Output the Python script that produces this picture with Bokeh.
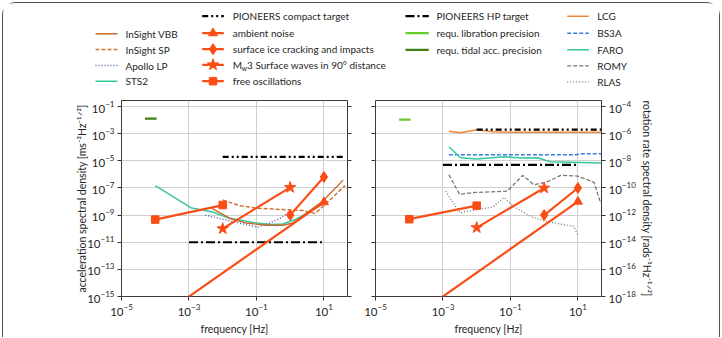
import math
from bokeh.plotting import figure
from bokeh.models import Range1d, FixedTicker, LogAxis, CustomJSTickFormatter
from bokeh.layouts import column, row
from bokeh.embed import file_html
from bokeh.resources import INLINE
from bokeh.core.properties import value

FONT = "Lato"

# ---------------- axis ticks ----------------
freq_ticks = [1e-5, 1e-3, 1e-1, 1e1]
acc_ticks = [1e-1, 1e-3, 1e-5, 1e-7, 1e-9, 1e-11, 1e-13, 1e-15]
rot_ticks = [1e-4, 1e-6, 1e-8, 1e-10, 1e-12, 1e-14, 1e-16, 1e-18]

# ---------------- acceleration panel ----------------
vbb_f = [4.7e-3, 0.016, 0.05, 0.2, 0.6, 1.2, 9.3, 37]
vbb_acc = [3.3e-9, 5.9e-10, 2.6e-10, 1.8e-10, 1.8e-10, 2.6e-10, 1.1e-8, 3.8e-7]

sp_f = [1e-2, 0.032, 0.1, 0.5, 2.4, 5.4, 10, 42]
sp_acc = [1.3e-8, 5e-9, 3.3e-9, 2.6e-9, 2.2e-9, 1.3e-9, 5e-9, 1.5e-7]

apollo_f = [3e-3, 0.05, 0.11, 0.25, 0.5, 1.0]
apollo_acc = [1e-9, 2e-10, 1.3e-10, 2.6e-10, 5.9e-10, 1.9e-9]

sts2_f = [1e-4, 1.2e-3, 5e-3, 0.016, 0.1, 0.25, 0.6, 1.35, 3, 9.3]
sts2_acc = [1.5e-7, 3.3e-9, 1.7e-9, 5.9e-10, 2.6e-10, 2e-10, 2.2e-10, 4.5e-10, 1.3e-9, 6.6e-9]

compact_acc_f = [1e-2, 40]
compact_acc = [2e-5, 2e-5]
hp_acc_f = [1e-3, 10]
hp_acc = [1e-11, 1e-11]
tidal_f = [5e-5, 1.1e-4]
tidal_acc = [1.3e-2, 1.3e-2]

ambient_f = [1e-4, 10]
ambient_acc = [1.8e-17, 9e-9]
ice_f = [1, 10]
ice_acc = [1e-9, 6.5e-7]
mw3_f = [1e-2, 1]
mw3_acc = [1e-10, 1.1e-7]
freeosc_f = [1e-4, 1e-2]
freeosc_acc = [4.7e-10, 5.5e-9]

# ---------------- rotation panel ----------------
lcg_f = [1.5e-3, 3.3e-3, 0.01, 0.03, 0.1, 1, 10, 50]
lcg_rot = [1.5e-6, 1.2e-6, 2e-6, 1.4e-6, 1.3e-6, 1.3e-6, 1.3e-6, 1.3e-6]

bs3a_f = [1.5e-3, 9, 11, 50]
bs3a_rot = [2.8e-8, 2.8e-8, 3.3e-8, 3.3e-8]

faro_f = [1.5e-3, 3.3e-3, 0.01, 0.063, 0.2, 0.63, 1.5, 50]
faro_rot = [1.1e-7, 1.7e-8, 1.4e-8, 2e-8, 1.6e-8, 1.7e-8, 8.5e-9, 7e-9]

romy_f = [1.5e-3, 3.1e-3, 9.3e-3, 0.081, 0.23, 0.5, 1.25, 3.1, 9.8, 30, 48]
romy_rot = [9.5e-10, 3.4e-11, 4.7e-11, 5.8e-11, 8.5e-10, 1.7e-10, 2.9e-10, 8.5e-10, 7.6e-10, 2.6e-10, 7e-12]

rlas_f = [1.2e-3, 2.6e-3, 3.3e-3, 1e-2, 0.03, 0.065, 0.13, 0.4, 0.9, 2.5, 7.5, 10]
rlas_rot = [6e-11, 3e-12, 1.5e-12, 2.5e-12, 4e-12, 2e-11, 4e-12, 8e-13, 4e-13, 2.4e-13, 1.5e-13, 3.5e-14]

compact_rot_f = [1e-2, 50]
compact_rot = [2e-6, 2e-6]
hp_rot_f = [1e-3, 10]
hp_rot = [5e-9, 5e-9]
libration_f = [5e-5, 1.1e-4]
libration_rot = [1.1e-5, 1.1e-5]

ambient_rot = [1.8e-20, 1e-11]
ice_rot = [1e-12, 1e-10]
mw3_rot = [1.2e-13, 1e-10]
freeosc_rot = [5e-13, 5e-12]

# ---------------- styles ----------------
C_VBB = "#c9692e"
C_SP = "#cf7434"
C_APOLLO = "#5a5aa8"
C_TEAL = "#34c9a0"
C_RED = "#fa4d16"
C_DKGREEN = "#3f7f16"
C_LTGREEN = "#66cc2a"
C_LCG = "#f08738"
C_BS3A = "#3d7fdc"
C_GREY = "#777777"
DASH_COMPACT = "6 3 2 3 2 3"
DASH_HP = "9 3 2 3"
TXT = "#262626"
MARKER_SIZE = {"triangle": 9, "diamond": 11, "star": 12, "square": 7.5}


def style_axes(p, y_ticks, y_label, side):
    p.xaxis.ticker = FixedTicker(ticks=freq_ticks)
    p.yaxis.ticker = FixedTicker(ticks=y_ticks)
    p.xgrid.ticker = FixedTicker(ticks=freq_ticks)
    p.ygrid.ticker = FixedTicker(ticks=y_ticks)
    for g in (p.xgrid, p.ygrid):
        g.grid_line_color = "#cfcfcf"
        g.grid_line_width = 1
    p.xaxis.axis_label = "frequency [Hz]"
    p.yaxis.axis_label = y_label
    for ax in p.xaxis + p.yaxis:
        ax.axis_line_color = None
        ax.minor_tick_line_color = None
        ax.major_tick_in = 0
        ax.major_tick_out = 4
        ax.major_tick_line_color = "#333333"
        ax.major_label_text_font = FONT
        ax.major_label_text_font_size = "11.5px"
        ax.major_label_text_color = TXT
        ax.axis_label_text_font = FONT
        ax.axis_label_text_font_size = "10.5px"
        ax.axis_label_text_font_style = "normal"
        ax.axis_label_text_color = TXT
        ax.axis_label_standoff = 4
        ax.major_label_standoff = 3
    for ax in p.yaxis:
        ax.axis_label_standoff = -4 if side == "left" else 2
        ax.axis_label_orientation = "vertical"
    # unlabeled ticks on the opposite side of the frame
    twin = LogAxis(ticker=FixedTicker(ticks=y_ticks),
                   formatter=CustomJSTickFormatter(code="return ''"),
                   axis_line_color=None, minor_tick_line_color=None,
                   major_tick_in=0, major_tick_out=4,
                   major_tick_line_color="#333333")
    p.add_layout(twin, "right" if side == "left" else "left")
    p.outline_line_color = "#3a3a3a"
    p.outline_line_width = 1


def series(p, f, v, marker):
    p.line(f, v, line_color=C_RED, line_width=2.2)
    p.scatter(f, v, marker=marker, size=MARKER_SIZE[marker],
              fill_color=C_RED, line_color=C_RED)


# ---------------- legend strip ----------------
leg = figure(width=716, height=89, x_range=Range1d(3, 719), y_range=Range1d(92, 3),
             toolbar_location=None, output_backend="svg",
             x_axis_location=None, y_axis_location=None,
             min_border=0, outline_line_color=None)
leg.grid.visible = False

FS = "10px"


def leg_text(x, y, s, size=FS):
    leg.text(x=[x], y=[y], text=[s], text_font=value(FONT), text_font_size=size,
             text_baseline="middle", text_align="left", text_color=TXT)


def leg_line(x0, x1, y, color, width, dash="solid"):
    leg.line([x0, x1], [y, y], line_color=color, line_width=width, line_dash=dash)


# column 1: seismometer noise models
c1 = (95, 117, 125)
leg_line(c1[0], c1[1], 33.3, C_VBB, 1.5)
leg_text(c1[2], 33.3, "InSight VBB")
leg_line(c1[0], c1[1], 49, C_SP, 1.5, "4 2")
leg_text(c1[2], 49, "InSight SP")
leg_line(c1[0], c1[1], 65, C_APOLLO, 1.5, "1 2")
leg_text(c1[2], 65, "Apollo LP")
leg_line(c1[0], c1[1], 80.7, C_TEAL, 1.5)
leg_text(c1[2], 80.7, "STS2")

# column 2: targets and lunar signals
c2 = (201.7, 223.3, 232.3)
mx = (c2[0] + c2[1]) / 2
leg_line(c2[0], c2[1], 15.7, "black", 2.2, DASH_COMPACT)
leg_text(c2[2], 15.7, "PIONEERS compact target")
for yy, mk, label in [(32.7, "triangle", "ambient noise"),
                      (48.7, "diamond", "surface ice cracking and impacts"),
                      (80.7, "square", "free oscillations")]:
    leg_line(c2[0], c2[1], yy, C_RED, 2.2)
    leg.scatter([mx], [yy], marker=mk, size=MARKER_SIZE[mk],
                fill_color=C_RED, line_color=C_RED)
    leg_text(c2[2], yy, label)
leg_line(c2[0], c2[1], 64.3, C_RED, 2.2)
leg.scatter([mx], [64.3], marker="star", size=MARKER_SIZE["star"],
            fill_color=C_RED, line_color=C_RED)
leg_text(c2[2], 64.3, "M")
leg_text(c2[2] + 8.6, 67.0, "w", size="7px")
leg_text(c2[2] + 14.3, 64.3, "3 Surface waves in 90° distance")

# column 3: requirement levels
c3 = (405, 428.3, 436)
leg_line(c3[0], c3[1], 15.7, "black", 2.2, DASH_HP)
leg_text(c3[2], 15.7, "PIONEERS HP target")
leg_line(c3[0], c3[1], 32.7, C_LTGREEN, 2.2)
leg_text(c3[2], 32.7, "requ. libration precision")
leg_line(c3[0], c3[1], 49.3, C_DKGREEN, 2.2)
leg_text(c3[2], 49.3, "requ. tidal acc. precision")

# column 4: rotation sensors
c4 = (566.7, 588.3, 596.7)
leg_line(c4[0], c4[1], 15.7, C_LCG, 1.5)
leg_text(c4[2], 15.7, "LCG")
leg_line(c4[0], c4[1], 32.7, C_BS3A, 1.5, "4 2")
leg_text(c4[2], 32.7, "BS3A")
leg_line(c4[0], c4[1], 49.3, C_TEAL, 1.5)
leg_text(c4[2], 49.3, "FARO")
leg_line(c4[0], c4[1], 65.3, C_GREY, 1.3, "4 2")
leg_text(c4[2], 65.3, "ROMY")
leg_line(c4[0], c4[1], 81.3, C_GREY, 1.3, "1 2")
leg_text(c4[2], 81.3, "RLAS")

# ---------------- acceleration panel ----------------
pa = figure(width=357, height=245, x_axis_type="log", y_axis_type="log",
            x_range=Range1d(1e-5, 50), y_range=Range1d(1e-15, 10 ** -0.55),
            toolbar_location=None, output_backend="svg",
            min_border_left=118, min_border_right=13, min_border_top=8, min_border_bottom=30)
style_axes(pa, acc_ticks, "acceleration spectral density [ms⁻²Hz⁻¹ᐟ²]", "left")

pa.line(tidal_f, tidal_acc, line_color=C_DKGREEN, line_width=2.2)
pa.line(compact_acc_f, compact_acc, line_color="black", line_width=2.2, line_dash=DASH_COMPACT)
pa.line(hp_acc_f, hp_acc, line_color="black", line_width=2.2, line_dash=DASH_HP)
pa.line(sts2_f, sts2_acc, line_color=C_TEAL, line_width=1.5)
pa.line(apollo_f, apollo_acc, line_color=C_APOLLO, line_width=1.5, line_dash="1 2")
pa.line(vbb_f, vbb_acc, line_color=C_VBB, line_width=1.4)
pa.line(sp_f, sp_acc, line_color=C_SP, line_width=1.5, line_dash="4 2")
series(pa, ambient_f, ambient_acc, "triangle")
series(pa, ice_f, ice_acc, "diamond")
series(pa, mw3_f, mw3_acc, "star")
series(pa, freeosc_f, freeosc_acc, "square")

# ---------------- rotation panel ----------------
pr = figure(width=359, height=245, x_axis_type="log", y_axis_type="log",
            x_range=Range1d(1e-5, 50), y_range=Range1d(1e-18, 10 ** -3.55),
            y_axis_location="right",
            toolbar_location=None, output_backend="svg",
            min_border_left=15, min_border_right=118, min_border_top=8, min_border_bottom=30)
style_axes(pr, rot_ticks, "rotation rate spectral density [rads⁻¹Hz⁻¹ᐟ²]", "right")

pr.line(libration_f, libration_rot, line_color=C_LTGREEN, line_width=2.2)
pr.line(lcg_f, lcg_rot, line_color=C_LCG, line_width=1.5)
pr.line(compact_rot_f, compact_rot, line_color="black", line_width=2.2, line_dash=DASH_COMPACT)
pr.line(bs3a_f, bs3a_rot, line_color=C_BS3A, line_width=1.5, line_dash="4 2")
pr.line(faro_f, faro_rot, line_color=C_TEAL, line_width=1.5)
pr.line(hp_rot_f, hp_rot, line_color="black", line_width=2.2, line_dash=DASH_HP)
pr.line(romy_f, romy_rot, line_color=C_GREY, line_width=1.3, line_dash="4 2")
pr.line(rlas_f, rlas_rot, line_color=C_GREY, line_width=1.3, line_dash="1 2")
series(pr, ambient_f, ambient_rot, "triangle")
series(pr, ice_f, ice_rot, "diamond")
series(pr, mw3_f, mw3_rot, "star")
series(pr, freeosc_f, freeosc_rot, "square")

page = column(leg, row(pa, pr),
              styles={"border": "1.3px solid #505050", "border-bottom": "none",
                      "border-radius": "14px 14px 0 0", "margin-left": "2px",
                      "margin-top": "2px", "background": "white"})

open("out.html", "w").write(file_html(page, INLINE))
